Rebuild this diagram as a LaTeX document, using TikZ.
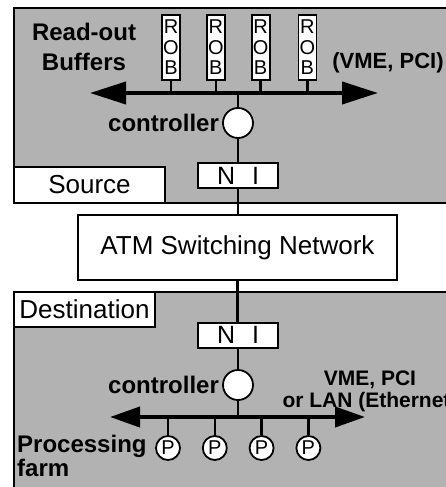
\documentclass[tikz,border=0pt]{standalone}
\usepackage{fontspec}
\setmainfont{Liberation Sans}
\usetikzlibrary{
  arrows.meta,
  positioning
}

\begin{document}
\begin{tikzpicture}[
  x=1pt, y=-1pt,
  panel/.style={draw, line width=2pt, fill=black!30},
  tag/.style={draw, line width=2pt, fill=white, inner sep=0pt,
              font=\fontsize{26}{28}\selectfont},
  rob/.style={draw, line width=1.8pt, fill=white, minimum width=18pt,
              minimum height=65pt, inner sep=0pt, align=center,
              font=\fontsize{20}{20.5}\selectfont},
  proc/.style={circle, draw, line width=1.8pt, fill=white, minimum size=24pt,
               inner sep=0pt, font=\fontsize{20}{20}\selectfont},
  ctrl/.style={circle, draw, line width=1.8pt, fill=white, minimum size=30pt,
               inner sep=0pt},
  ni/.style={draw, line width=2pt, fill=white, minimum width=80pt,
             minimum height=25pt, inner sep=0pt,
             font=\fontsize{25}{25}\selectfont},
  lbl/.style={font=\fontsize{24}{30}\selectfont\bfseries, inner sep=0pt},
  bus/.style={{Triangle[length=36pt,width=22pt]}-{Triangle[length=36pt,width=22pt]},
              line width=4pt},
  wire/.style={line width=2.5pt}
]

\useasboundingbox (0,0) rectangle (445,487);

% source and destination areas
\draw[panel] (14,8)   rectangle (470,203);
\draw[panel] (14,292) rectangle (470,510);

\node[tag, minimum width=151pt, minimum height=36pt] (src)  at (89.5,185)
      {Source};
\node[tag, minimum width=141pt, minimum height=35pt] (dest) at (84.5,309.5)
      {Destination};
\node[tag, minimum width=319pt, minimum height=65pt] (atm)  at (237.5,247.5)
      {ATM Switching Network};

% read-out side
\node[rob] (rob1) at (171,47.5) {R\\O\\B};
\node[rob, right=25pt of rob1] (rob2) {R\\O\\B};
\node[rob, right=25pt of rob2] (rob3) {R\\O\\B};
\node[rob, right=27pt of rob3] (rob4) {R\\O\\B};

\coordinate (srcbusL) at (90,93);
\coordinate (srcbusR) at (378,93);
\coordinate (srcbus)  at (238,93);

\node[ctrl] (ctrl1) at (238,123) {};
\node[ni]   (ni1)   at (238,175.5) {N\hspace{17pt}I};

\foreach \i in {1,...,4}
  \draw[wire] (rob\i) -- (rob\i |- srcbus);
\draw[bus] (srcbusL) -- (srcbusR);
\draw[wire] (srcbus) -- (ctrl1);
\draw[wire] (ctrl1)  -- (ni1);
\draw[wire] (ni1)    -- (ni1 |- atm.north);

\node[lbl, align=center] (rolbl) at (84,47) {Read-out\\Buffers};
\node[lbl, left=3pt of ctrl1] (ctrllbl1) {controller};
\node[lbl, font=\fontsize{22}{24}\selectfont\bfseries] (buslbl1) at (388,63)
      {(VME, PCI)};

% processing side
\node[ni]   (ni2)   at (238,335) {N\hspace{17pt}I};
\node[ctrl] (ctrl2) at (238,385) {};

\coordinate (dstbusL) at (110,417);
\coordinate (dstbusR) at (365,417);
\coordinate (dstbus)  at (238,417);

\node[proc] (p1) at (168,448) {P};
\node[proc, right=21pt of p1] (p2) {P};
\node[proc, right=21pt of p2] (p3) {P};
\node[proc, right=21pt of p3] (p4) {P};

\draw[wire] (atm)   -- (atm |- ni2.north);
\draw[wire] (ni2)   -- (ctrl2);
\draw[wire] (ctrl2) -- (dstbus);
\draw[bus, {Triangle[length=30pt,width=20pt]}-{Triangle[length=30pt,width=20pt]}]
      (dstbusL) -- (dstbusR);
\foreach \i in {1,...,4}
  \draw[wire] (p\i) -- (p\i |- dstbus);

\node[lbl, left=3pt of ctrl2] (ctrllbl2) {controller};
\node[lbl, align=center, font=\fontsize{21}{22}\selectfont\bfseries]
      (buslbl2) at (370,391) {VME, PCI\\or LAN (Ethernet)};
\node[lbl, align=left, anchor=west, font=\fontsize{24}{22}\selectfont\bfseries]
      (farmlbl) at (17,456) {Processing\\farm};

\end{tikzpicture}
\end{document}
